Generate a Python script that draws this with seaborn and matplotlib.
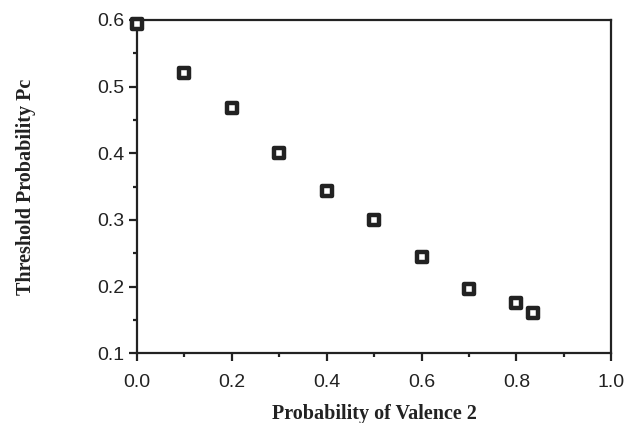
import matplotlib
matplotlib.use("Agg")
import matplotlib.pyplot as plt
import seaborn as sns
import pandas as pd
from matplotlib.ticker import MultipleLocator

valence2_prob = [0.0, 0.1, 0.2, 0.3, 0.4, 0.5, 0.6, 0.7, 0.8, 0.835]
threshold_pc = [0.594, 0.520, 0.468, 0.401, 0.344, 0.300, 0.244, 0.196, 0.176, 0.160]
x_ticks = [0.0, 0.2, 0.4, 0.6, 0.8, 1.0]
y_ticks = [0.1, 0.2, 0.3, 0.4, 0.5, 0.6]

df = pd.DataFrame({"p2": valence2_prob, "pc": threshold_pc})

sns.set_theme(style="white")
plt.rcParams['font.family'] = ['Liberation Sans', 'DejaVu Sans']

fig = plt.figure(figsize=(6.25, 4.23), dpi=100)
ax = fig.add_axes([0.219, 0.165, 0.759, 0.788])

sns.scatterplot(data=df, x="p2", y="pc", ax=ax, marker="s", s=45,
                facecolor="white", edgecolor="#222222", linewidth=3.2,
                clip_on=False, zorder=3)

ax.set_xlim(0.0, 1.0)
ax.set_ylim(0.1, 0.6)
ax.set_xticks(x_ticks)
ax.set_yticks(y_ticks)
ax.set_xticklabels([f"{v:.1f}" for v in x_ticks])
ax.set_yticklabels([f"{v:.1f}" for v in y_ticks])
ax.xaxis.set_minor_locator(MultipleLocator(0.1))
ax.yaxis.set_minor_locator(MultipleLocator(0.05))

ax.tick_params(axis="both", which="major", direction="out", length=6, width=1.6,
               color="#222222", labelsize=14, labelcolor="#222222",
               bottom=True, left=True, top=False, right=False)
ax.tick_params(axis="y", which="major", pad=3)
ax.tick_params(axis="x", which="major", pad=9)
ax.tick_params(axis="both", which="minor", direction="out", length=3, width=1.6,
               color="#222222", bottom=True, left=True, top=False, right=False)

for sp in ax.spines.values():
    sp.set_visible(True)
    sp.set_color("#222222")
    sp.set_linewidth(1.6)

ax.set_xlabel("Probability of Valence 2", fontsize=14.5, fontweight="bold",
              family=["Liberation Serif", "DejaVu Serif"], color="#222222", labelpad=9)
ax.set_ylabel("Threshold Probability Pc", fontsize=14.5, fontweight="bold",
              family=["Liberation Serif", "DejaVu Serif"], color="#222222", labelpad=44)

fig.savefig("out.png", dpi=100, facecolor="white")
